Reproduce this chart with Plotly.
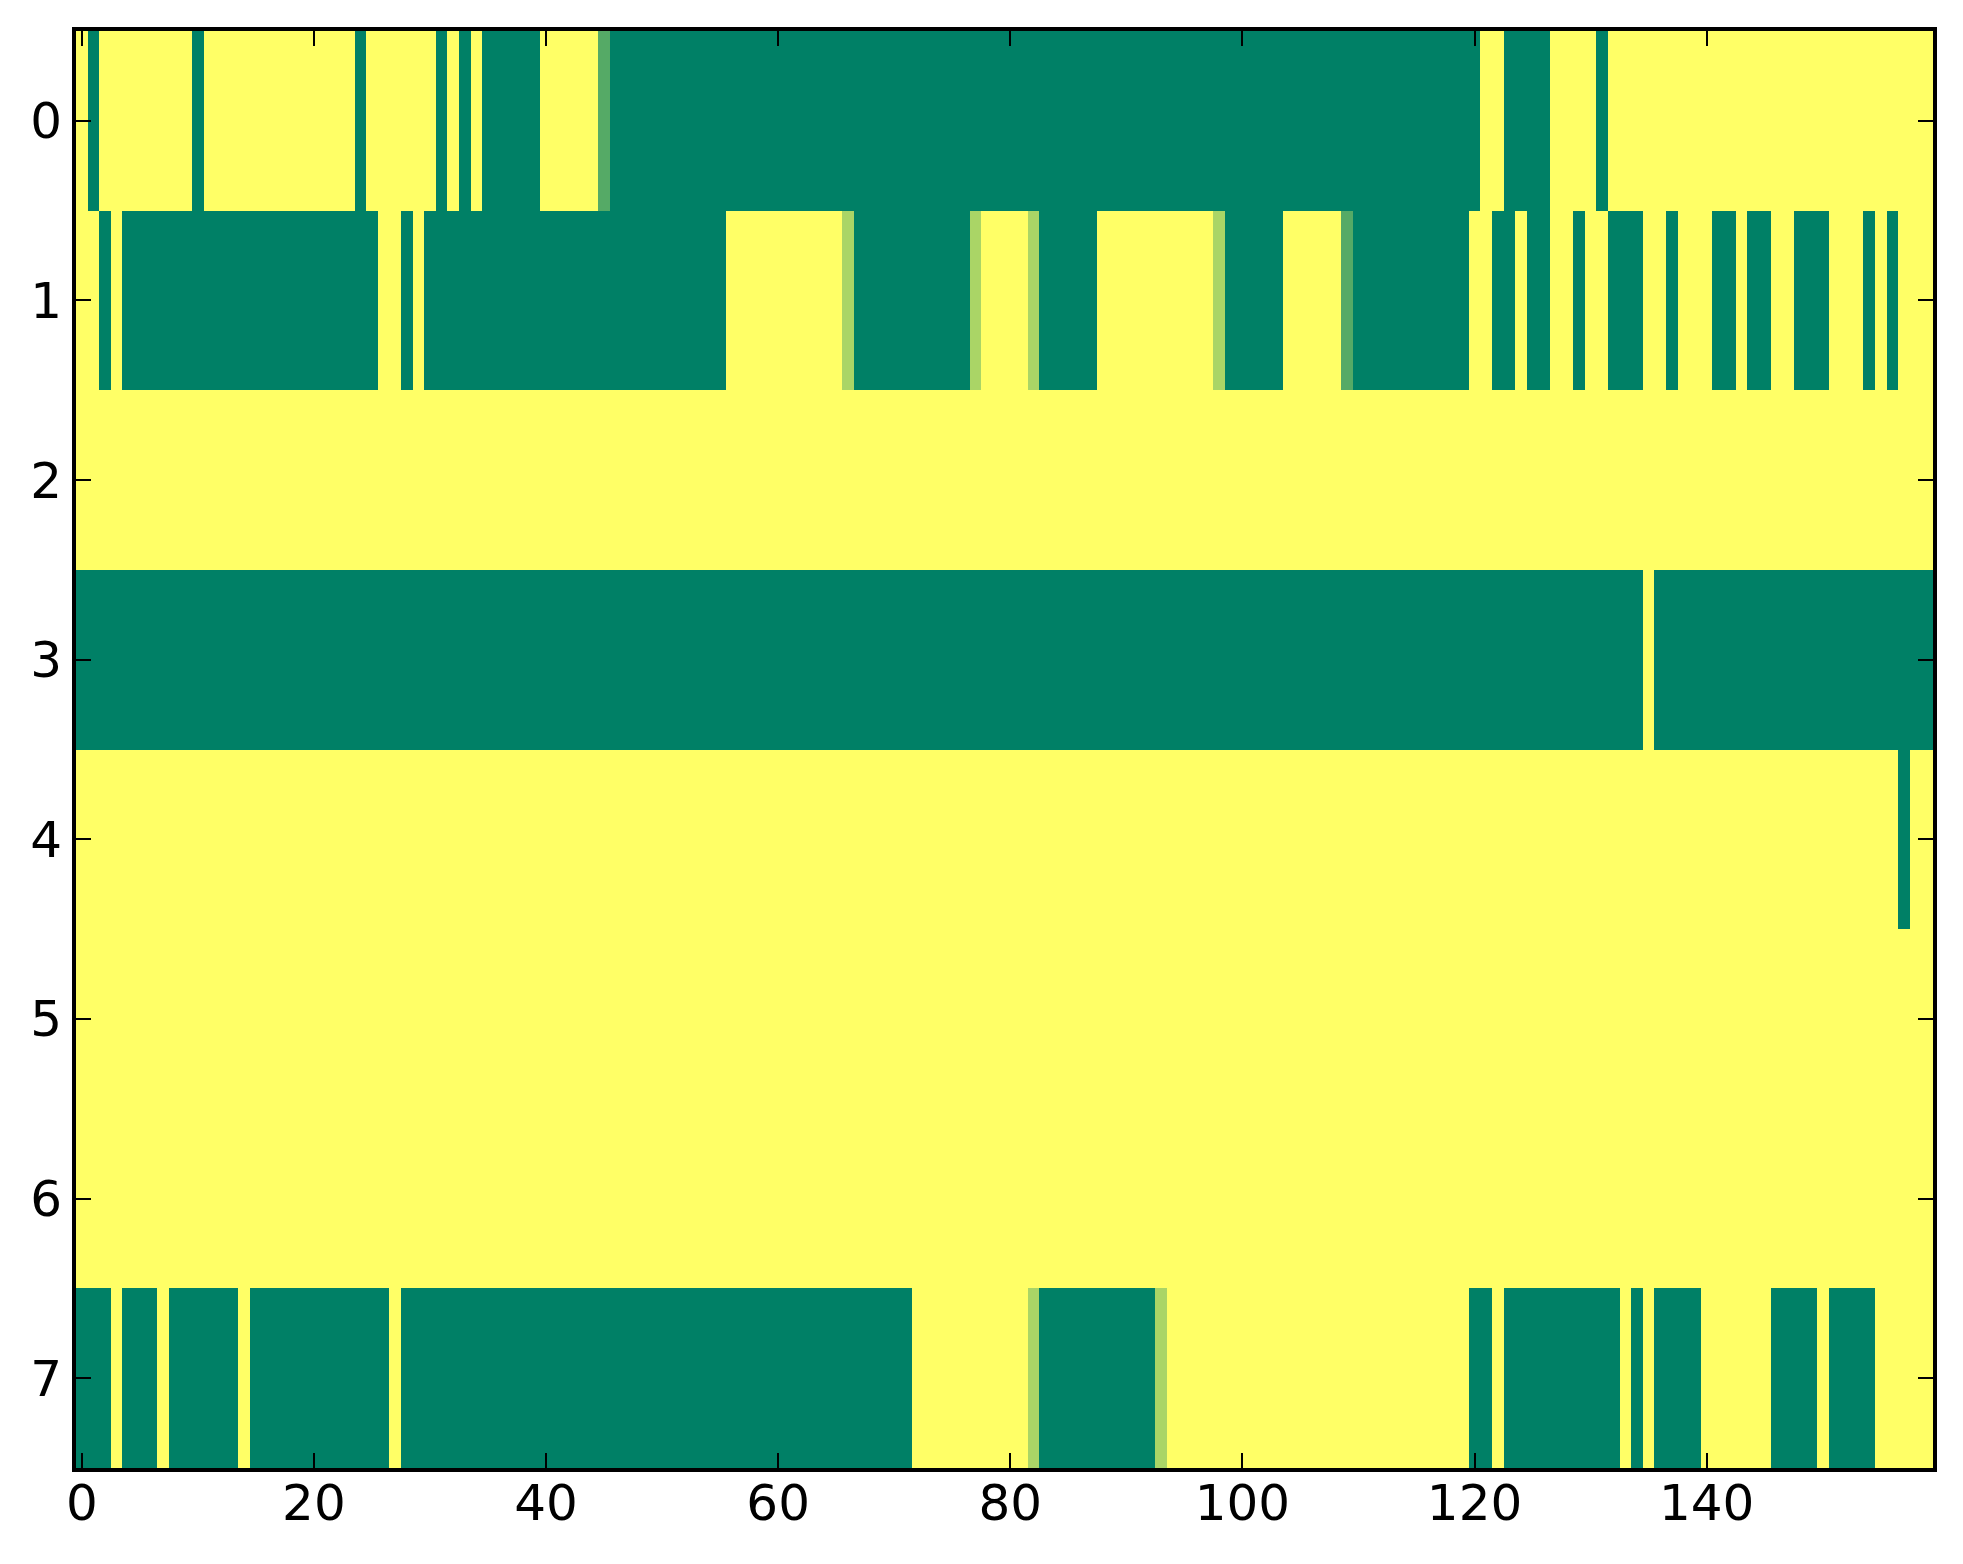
import plotly.graph_objects as go

# Each row: one character per column (160 columns), value = digit / 9.
# 9 = yellow (1.0), 0 = green (0.0), 3 / 6 = in-between cells.
row0 = ("9099999999" "0999999999" "9999099999" "9090900000"
        "9999930000" "0000000000" "0000000000" "0000000000"
        "0000000000" "0000000000" "0000000000" "0000000000"
        "0990000999" "9099999999" "9999999999" "9999999999")
row1 = ("9909000000" "0000000000" "0000009909" "0000000000"
        "0000000000" "0000009999" "9999996000" "0000000699"
        "9960000099" "9999999960" "0000999993" "0000000000"
        "9900900990" "9900099099" "9009009900" "0999090999")
row2 = "9" * 160
row3 = ("0000000000" "0000000000" "0000000000" "0000000000"
        "0000000000" "0000000000" "0000000000" "0000000000"
        "0000000000" "0000000000" "0000000000" "0000000000"
        "0000000000" "0000090000" "0000000000" "0000000000")
row4 = ("9999999999" "9999999999" "9999999999" "9999999999"
        "9999999999" "9999999999" "9999999999" "9999999999"
        "9999999999" "9999999999" "9999999999" "9999999999"
        "9999999999" "9999999999" "9999999999" "9999999099")
row5 = "9" * 160
row6 = "9" * 160
row7 = ("0009000900" "0000900000" "0000000900" "0000000000"
        "0000000000" "0000000000" "0000000000" "0099999999"
        "9960000000" "0006999999" "9999999999" "9999999999"
        "0090000000" "0009090000" "9999990000" "9000099999")

rows = [row0, row1, row2, row3, row4, row5, row6, row7]
z = [[int(ch) / 9 for ch in r] for r in rows]

x_ticks = [0, 20, 40, 60, 80, 100, 120, 140]
y_ticks = [0, 1, 2, 3, 4, 5, 6, 7]

# matplotlib "summer" colormap
summer = [[0.0, "rgb(0,128,102)"], [1.0, "rgb(255,255,102)"]]

fig = go.Figure(go.Heatmap(
    z=z,
    x=list(range(160)),
    y=list(range(8)),
    colorscale=summer,
    zmin=0, zmax=1,
    showscale=False,
))

axis_style = dict(
    showline=True, linecolor="black", linewidth=4, mirror="ticks",
    ticks="inside", ticklen=15, tickwidth=2, tickcolor="black",
    showgrid=False, zeroline=False,
    tickfont=dict(family="DejaVu Sans", size=50, color="black"),
)

fig.update_xaxes(range=[-0.5, 159.5], tickvals=x_ticks, ticklabelstandoff=-12,
                 **axis_style)
fig.update_yaxes(range=[7.5, -0.5], tickvals=y_ticks, ticklabelstandoff=0,
                 **axis_style)

# page body adds a small offset, so margins are trimmed to compensate
fig.update_layout(
    width=1963, height=1564,
    margin=dict(l=68, r=38, t=23, b=104),
    paper_bgcolor="white", plot_bgcolor="white",
)

fig.write_html("out.html")
